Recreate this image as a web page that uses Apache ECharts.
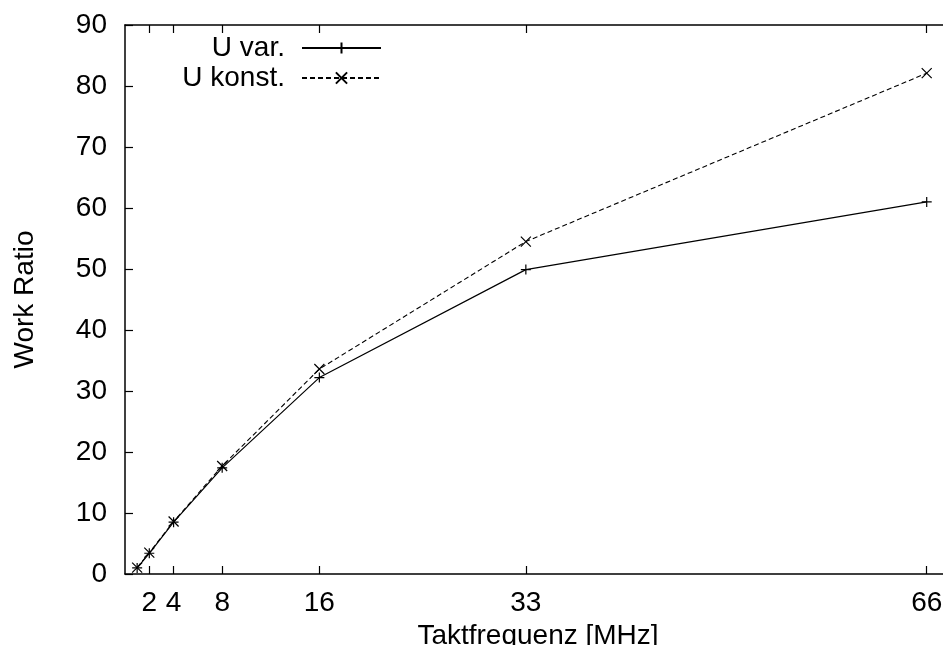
<!DOCTYPE html>
<html>
<head>
<meta charset="utf-8">
<script src="https://cdn.jsdelivr.net/npm/echarts@6/dist/echarts.min.js"></script>
<style>
  html, body { margin: 0; padding: 0; background: #fff; }
  #chart { width: 943px; height: 645px; }
</style>
</head>
<body>
<div id="chart"></div>
<script>
// Clock frequency in MHz
const freq = [1, 2, 4, 8, 16, 33, 66];
// Work ratio with variable supply voltage
const uVar = [1.0, 3.4, 8.5, 17.4, 32.2, 49.9, 61.0];
// Work ratio with constant supply voltage
const uKonst = [1.05, 3.5, 8.6, 17.7, 33.6, 54.5, 82.1];
// Frequencies marked on the x axis
const xTicks = [2, 4, 8, 16, 33, 66];
const seriesNames = ['U var.', 'U konst.'];

const FONT = 'Liberation Sans, Arial, Helvetica, sans-serif';
const PLUS = 'path://M0,5L10,5M5,0L5,10';
const CROSS = 'path://M0,0L10,10M0,10L10,0';

const pairs = (ys) => freq.map((f, i) => [f, ys[i]]);

const frameLine = () => ({ show: true, onZero: false, lineStyle: { color: '#000', width: 1.5 } });
const tickIn = (extra) => Object.assign({ show: true, inside: true, length: 8, lineStyle: { color: '#000', width: 1.2 } }, extra || {});

const chart = echarts.init(document.getElementById('chart'), null, { renderer: 'canvas' });

chart.setOption({
  animation: false,
  backgroundColor: '#fff',
  textStyle: { fontFamily: FONT, color: '#000' },
  grid: { left: 125, top: 25, width: 826, height: 549, containLabel: false, outerBoundsMode: 'none' },
  legend: {
    orient: 'vertical',
    right: 556,
    top: 29,
    align: 'right',
    itemWidth: 79,
    itemHeight: 14,
    itemGap: 2,
    data: seriesNames,
    textStyle: { fontSize: 28, fontFamily: FONT, color: '#000', padding: [0, 12, 0, 0] }
  },
  xAxis: [
    {
      type: 'value', min: 0, max: 68, position: 'bottom',
      name: 'Taktfrequenz [MHz]', nameLocation: 'middle', nameGap: 44,
      nameTextStyle: { fontSize: 28, fontFamily: FONT, color: '#000' },
      axisLine: frameLine(),
      axisTick: tickIn({ customValues: xTicks }),
      axisLabel: { customValues: xTicks, fontSize: 28, fontFamily: FONT, color: '#000', margin: 15 },
      splitLine: { show: false }
    },
    {
      type: 'value', min: 0, max: 68, position: 'top',
      axisLine: frameLine(),
      axisTick: tickIn({ customValues: xTicks }),
      axisLabel: { show: false },
      splitLine: { show: false }
    }
  ],
  yAxis: [
    {
      type: 'value', min: 0, max: 90, interval: 10, position: 'left',
      name: 'Work Ratio', nameLocation: 'middle', nameGap: 86, nameRotate: 90,
      nameTextStyle: { fontSize: 28, fontFamily: FONT, color: '#000' },
      axisLine: frameLine(),
      axisTick: tickIn(),
      axisLabel: { fontSize: 28, fontFamily: FONT, color: '#000', margin: 18 },
      splitLine: { show: false }
    },
    {
      type: 'value', min: 0, max: 90, interval: 10, position: 'right',
      axisLine: frameLine(),
      axisTick: tickIn(),
      axisLabel: { show: false },
      splitLine: { show: false }
    }
  ],
  series: [
    {
      name: seriesNames[0], type: 'line', data: pairs(uVar),
      symbol: PLUS, symbolSize: 10,
      lineStyle: { color: '#000', width: 1.2, type: 'solid' },
      itemStyle: { color: 'rgba(0,0,0,0)', borderColor: '#000', borderWidth: 1.2 }
    },
    {
      name: seriesNames[1], type: 'line', data: pairs(uKonst),
      symbol: CROSS, symbolSize: 10,
      lineStyle: { color: '#000', width: 1.1, type: [5, 3] },
      itemStyle: { color: 'rgba(0,0,0,0)', borderColor: '#000', borderWidth: 1.2 }
    }
  ]
});
</script>
</body>
</html>
